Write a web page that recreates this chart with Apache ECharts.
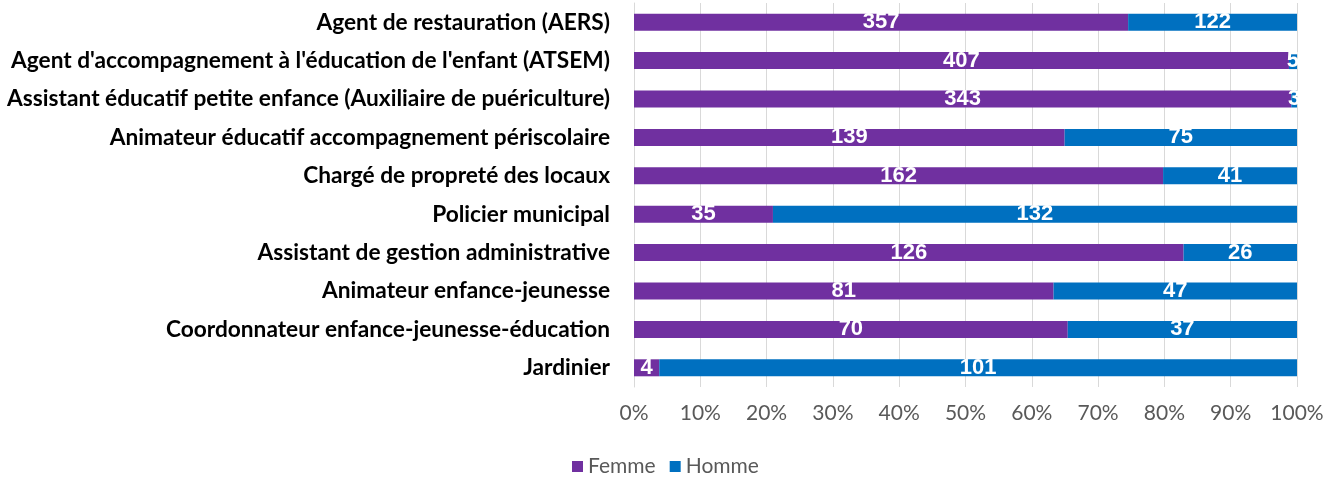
<!DOCTYPE html>
<html>
<head>
<meta charset="utf-8">
<script src="https://cdn.jsdelivr.net/npm/echarts@6/dist/echarts.min.js"></script>
<style>
  html, body { margin: 0; padding: 0; background: #fff; }
  #chart { width: 1337px; height: 477px; }
</style>
</head>
<body>
<div id="chart"></div>
<script>
// métiers, du haut vers le bas
const categories = [
  'Agent de restauration (AERS)',
  "Agent d'accompagnement à l'éducation de l'enfant (ATSEM)",
  'Assistant éducatif petite enfance (Auxiliaire de puériculture)',
  'Animateur éducatif accompagnement périscolaire',
  'Chargé de propreté des locaux',
  'Policier municipal',
  'Assistant de gestion administrative',
  'Animateur enfance-jeunesse',
  'Coordonnateur enfance-jeunesse-éducation',
  'Jardinier',
];
const femme = [357, 407, 343, 139, 162, 35, 126, 81, 70, 4];
const homme = [122, 5, 3, 75, 41, 132, 26, 47, 37, 101];
const xTicks = [0, 10, 20, 30, 40, 50, 60, 70, 80, 90, 100];

const colors = ['#7030a0', '#0070c0'];
const font = 'Lato, "Open Sans", sans-serif';

// 100% empilé : part de chaque sexe, l'étiquette garde l'effectif
const toShare = (arr, i) => arr[i] / (femme[i] + homme[i]) * 100;
const build = (arr) => arr.map((v, i) => ({ value: toShare(arr, i), count: v }));

const label = {
  show: true,
  position: 'inside',
  color: '#fff',
  fontFamily: '"Liberation Sans", Arial, sans-serif',
  fontWeight: 'bold',
  fontSize: 22,
  formatter: p => p.data.count,
};

const chart = echarts.init(document.getElementById('chart'));
chart.setOption({
  animation: false,
  color: colors,
  grid: { left: 634, right: 40, top: 3, bottom: 90, containLabel: false },
  legend: {
    top: 456,
    left: 572,
    padding: 0,
    itemWidth: 11,
    itemHeight: 11,
    itemGap: 14,
    icon: 'rect',
    textStyle: { color: '#595959', fontSize: 21, fontFamily: font },
    data: ['Femme', 'Homme'],
  },
  xAxis: {
    type: 'value',
    min: xTicks[0],
    max: xTicks[xTicks.length - 1],
    interval: 10,
    axisLine: { show: false },
    axisTick: { show: false },
    splitLine: { lineStyle: { color: '#d9d9d9', width: 1 } },
    axisLabel: {
      color: '#595959',
      fontSize: 21,
      margin: 16,
      fontFamily: font,
      formatter: v => v + '%',
    },
  },
  yAxis: {
    type: 'category',
    inverse: true,
    data: categories,
    axisLine: { show: true, lineStyle: { color: '#d9d9d9' } },
    axisTick: { show: false },
    axisLabel: {
      color: '#000',
      fontSize: 22.7,
      fontWeight: 'bold',
      margin: 24,
      fontFamily: font,
    },
  },
  series: [
    { name: 'Femme', type: 'bar', stack: 'total', barWidth: 17, data: build(femme), label },
    { name: 'Homme', type: 'bar', stack: 'total', barWidth: 17, data: build(homme), label },
  ],
});
</script>
</body>
</html>
